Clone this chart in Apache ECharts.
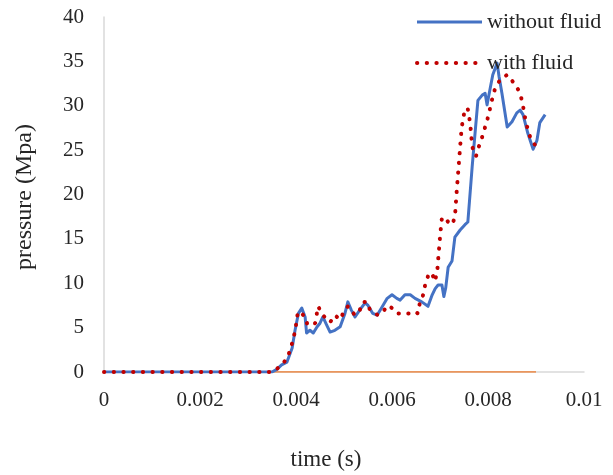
<!DOCTYPE html>
<html>
<head>
<meta charset="utf-8">
<script src="https://cdn.jsdelivr.net/npm/echarts@6/dist/echarts.min.js"></script>
<style>
  html, body { margin: 0; padding: 0; background: #fff; }
  #chart { width: 613px; height: 475px; }
</style>
</head>
<body>
<div id="chart"></div>
<script>
// Pressure history, time in seconds, pressure in MPa
const timeWithout = [0, 0.0035, 0.0036, 0.0037, 0.00381, 0.00392, 0.00398, 0.00405, 0.00412, 0.00419,
  0.00422, 0.00429, 0.00436, 0.00444, 0.0045, 0.00456, 0.00463, 0.00471, 0.00481, 0.00492,
  0.00502, 0.00508, 0.00515, 0.00523, 0.00533, 0.00544, 0.0055, 0.0056, 0.00569, 0.00579,
  0.0059, 0.006, 0.0061, 0.00617, 0.00627, 0.00638, 0.00648, 0.00662, 0.00675, 0.00683,
  0.0069, 0.00696, 0.00704, 0.00708, 0.00712, 0.00717, 0.00725, 0.00731, 0.00742, 0.00752,
  0.00758, 0.00767, 0.00773, 0.00779, 0.00788, 0.00794, 0.00798, 0.00804, 0.0081, 0.00819,
  0.00823, 0.00829, 0.0084, 0.0085, 0.0086, 0.00867, 0.00873, 0.00883, 0.00894, 0.00902,
  0.00908, 0.00919];
const pressureWithout = [0, 0, 0.3, 0.8, 1.1, 2.7, 4.7, 6.6, 7.2, 6.2,
  4.4, 4.7, 4.4, 5.1, 5.5, 6.2, 5.4, 4.5, 4.7, 5.1,
  6.6, 7.9, 7.0, 6.2, 7.0, 7.8, 7.5, 6.6, 6.4, 7.3,
  8.3, 8.7, 8.3, 8.1, 8.7, 8.7, 8.3, 7.9, 7.4, 8.6,
  9.4, 9.8, 9.8, 8.5, 9.5, 11.8, 12.5, 15.2, 16.0, 16.6,
  16.9, 23.1, 26.9, 30.6, 31.2, 31.4, 30.1, 31.8, 33.5, 34.8,
  33.3, 31.4, 27.6, 28.2, 29.2, 29.5, 29.0, 26.9, 25.1, 26.1,
  28.1, 29.0];

const timeWith = [0, 0.0035, 0.00356, 0.00371, 0.00383, 0.00394, 0.00399, 0.00404, 0.00412, 0.00419,
  0.00424, 0.0043, 0.0044, 0.00446, 0.00456, 0.00471, 0.00481, 0.00492, 0.00498, 0.00508,
  0.00517, 0.00523, 0.00533, 0.0054, 0.00548, 0.00554, 0.00565, 0.00571, 0.00581, 0.00592,
  0.006, 0.0061, 0.00623, 0.00638, 0.00648, 0.00654, 0.00658, 0.00665, 0.00669, 0.00675,
  0.00683, 0.00689, 0.00694, 0.00697, 0.007, 0.00704, 0.0071, 0.00717, 0.00725, 0.00731,
  0.00735, 0.0074, 0.00745, 0.00752, 0.00758, 0.00763, 0.00767, 0.00775, 0.00781, 0.00788,
  0.00794, 0.008, 0.00808, 0.00815, 0.00825, 0.0084, 0.00852, 0.00863, 0.00871, 0.00877,
  0.00883, 0.0089, 0.00898, 0.00908];
const pressureWith = [0, 0, 0.2, 0.8, 1.7, 3.6, 4.9, 6.8, 6.6, 6.2,
  5.3, 5.3, 5.5, 7.4, 6.4, 5.6, 6.4, 5.9, 6.6, 7.4,
  6.8, 6.4, 7.0, 7.9, 7.9, 7.0, 6.6, 6.4, 6.8, 7.5,
  7.2, 6.6, 6.6, 6.6, 6.8, 6.6, 7.8, 8.7, 9.8, 10.8,
  11.2, 10.2, 11.2, 13.2, 15.2, 17.4, 17.4, 16.9, 16.6, 17.4,
  20.5, 24.0, 27.5, 29.7, 29.6, 28.0, 25.4, 24.3, 25.4, 26.5,
  27.6, 28.7, 30.6, 32.0, 32.9, 33.5, 32.7, 31.8, 30.6, 28.7,
  27.3, 26.1, 25.6, 25.6];

// Zero reference line
const timeBase = [0, 0.009];
const pressureBase = [0, 0];

const xTicks = { min: 0, max: 0.01, interval: 0.002 };
const yTicks = { min: 0, max: 40, interval: 5 };

const pairs = (xs, ys) => xs.map((x, i) => [x, ys[i]]);

const serif = '"Liberation Serif", "Times New Roman", serif';
const textColor = '#262626';
const blue = '#4472C4';
const red = '#C00000';
const orange = '#ED7D31';
const dotted = [0.3, 9.4];

const chart = echarts.init(document.getElementById('chart'), null, { renderer: 'canvas' });

chart.setOption({
  animation: false,
  backgroundColor: '#ffffff',
  grid: { left: 104, right: 29, top: 17, bottom: 103, containLabel: false },
  xAxis: {
    type: 'value',
    min: xTicks.min, max: xTicks.max, interval: xTicks.interval,
    axisLine: { show: true, lineStyle: { color: '#d9d9d9', width: 1.5 } },
    axisTick: { show: false },
    splitLine: { show: false },
    axisLabel: { color: textColor, fontFamily: serif, fontSize: 21, margin: 18 }
  },
  yAxis: {
    type: 'value',
    min: yTicks.min, max: yTicks.max, interval: yTicks.interval,
    axisLine: { show: true, lineStyle: { color: '#d9d9d9', width: 1.5 } },
    axisTick: { show: false },
    splitLine: { show: false },
    axisLabel: { color: textColor, fontFamily: serif, fontSize: 21, margin: 20 }
  },
  legend: {
    orient: 'vertical',
    left: 410, top: 6,
    itemWidth: 65, itemHeight: 14, itemGap: 19,
    itemStyle: { opacity: 0 },
    data: [
      { name: 'without fluid', lineStyle: { width: 3, color: blue } },
      { name: 'with fluid', lineStyle: { width: 4, color: red, type: dotted, cap: 'round' } }
    ],
    textStyle: { color: textColor, fontFamily: serif, fontSize: 22 }
  },
  graphic: [
    {
      type: 'text', x: 25, y: 197, rotation: Math.PI / 2,
      style: { text: 'pressure (Mpa)', fill: textColor, font: '24px ' + serif,
               textAlign: 'center', textVerticalAlign: 'middle' }
    },
    {
      type: 'text', x: 326, y: 460,
      style: { text: 'time (s)', fill: textColor, font: '23px ' + serif,
               textAlign: 'center', textVerticalAlign: 'middle' }
    }
  ],
  series: [
    {
      name: 'baseline', type: 'line', data: pairs(timeBase, pressureBase),
      showSymbol: false, symbol: 'none', z: 1,
      lineStyle: { color: orange, width: 1.5 }
    },
    {
      name: 'without fluid', type: 'line', data: pairs(timeWithout, pressureWithout),
      showSymbol: false, symbol: 'none', z: 2,
      itemStyle: { color: blue },
      lineStyle: { color: blue, width: 3, join: 'round' }
    },
    {
      name: 'with fluid', type: 'line', data: pairs(timeWith, pressureWith),
      showSymbol: false, symbol: 'none', z: 3,
      itemStyle: { color: red },
      lineStyle: { color: red, width: 4, type: dotted, cap: 'round' }
    }
  ]
});
</script>
</body>
</html>
